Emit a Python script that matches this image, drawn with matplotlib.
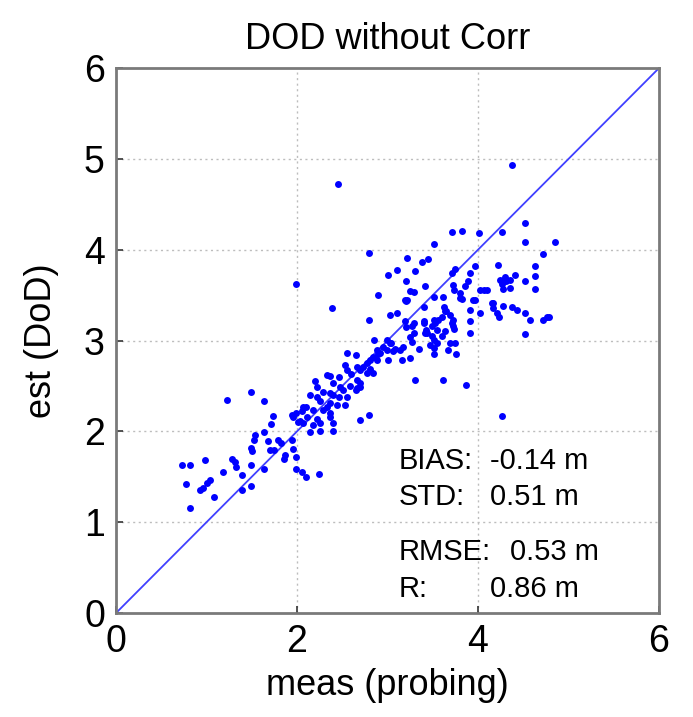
import matplotlib
matplotlib.use("Agg")
import matplotlib.pyplot as plt

plt.rcParams['font.family'] = ['Liberation Sans', 'DejaVu Sans']

title = "DOD without Corr"
xlabel = "meas (probing)"
ylabel = "est (DoD)"
xticks = [0, 2, 4, 6]
yticks = [0, 1, 2, 3, 4, 5, 6]
stat_names = ["BIAS:", "STD:", "RMSE:", "R:"]
stat_values = ["-0.14 m", "0.51 m", "0.53 m", "0.86 m"]

meas = [1.23, 1.49, 1.64, 1.73, 1.71, 1.94, 2.01, 1.54, 1.52, 1.49, 1.50, 1.64, 1.68, 1.70, 1.79,
        1.82, 1.75, 1.87, 1.86, 1.94, 1.96, 1.99, 1.99, 0.73, 0.82, 0.98, 0.77, 0.82, 0.93, 0.96,
        1.00, 1.04, 1.08, 1.18, 1.28, 1.31, 1.33, 1.39, 1.39, 1.49, 1.49, 1.64, 2.05, 2.10, 2.24,
        2.14, 2.25, 2.40, 2.70, 2.80, 2.03, 2.05, 2.10, 2.22, 2.18, 2.53, 2.07, 1.99, 1.96, 2.11,
        2.25, 2.36, 2.40, 2.07, 2.14, 2.22, 2.25, 2.36, 2.40, 2.46, 2.36, 2.33, 2.29, 2.44, 2.36,
        2.18, 2.20, 2.22, 2.40, 2.48, 2.51, 2.55, 2.59, 2.65, 2.70, 2.70, 2.53, 2.55, 2.46, 2.36,
        2.33, 2.66, 2.66, 2.55, 2.65, 2.60, 2.29,
        2.88, 2.92, 2.84, 2.81, 2.77, 2.88, 2.73, 2.70, 2.66, 2.81, 2.84, 2.77, 2.85, 2.99, 3.03,
        3.25, 3.27, 3.41, 3.43, 3.35, 3.14, 3.17, 3.06, 2.99, 3.25, 3.16, 3.04, 3.08, 3.01, 3.30,
        3.61, 3.87, 4.27,
        1.99, 2.39, 2.45, 4.37, 2.80, 2.80, 2.90, 3.01, 3.10, 3.22, 3.30, 3.38, 3.45, 3.20, 3.25,
        3.29, 3.41, 3.20, 3.03, 3.10, 3.19, 3.27, 3.40, 3.51, 3.71, 3.82, 4.01, 4.27, 4.52, 4.85,
        4.52, 4.72, 3.40,
        3.19, 3.51, 3.61, 3.71, 3.75, 3.91, 3.97, 3.89, 3.86, 3.72, 3.73, 3.80, 3.82, 3.97, 4.02,
        4.07, 4.10, 4.22, 4.24, 4.30, 4.31, 4.35, 4.26, 4.35, 4.41, 4.28, 4.52, 4.63, 4.63, 4.63,
        4.15, 4.16, 4.21, 4.28, 4.37, 4.43, 4.52, 4.57, 4.72, 4.76, 4.52, 3.94, 3.91, 4.02, 3.91,
        3.91, 3.62, 3.63, 3.69, 3.72, 3.72, 3.60, 3.51, 3.40, 3.49, 3.55, 3.44, 3.49, 3.29, 3.69,
        3.75, 3.55, 3.76, 3.67, 3.51, 3.51, 3.21, 3.65, 3.71, 3.73, 3.64, 3.60, 3.51, 3.47, 3.80,
        3.20, 3.29, 4.78, 4.17, 4.23, 3.56, 3.52, 2.95, 2.90]

est = [2.34, 2.43, 2.33, 2.17, 2.08, 2.18, 2.10, 1.96, 1.91, 1.82, 1.78, 1.99, 1.89, 1.80, 1.91,
       1.87, 1.79, 1.74, 1.70, 1.91, 1.81, 1.72, 1.59, 1.63, 1.63, 1.68, 1.42, 1.16, 1.35, 1.38,
       1.43, 1.47, 1.28, 1.55, 1.70, 1.66, 1.61, 1.52, 1.35, 1.63, 1.40, 1.59, 1.55, 1.50, 1.53,
       1.99, 2.00, 2.00, 2.12, 2.18, 2.11, 2.22, 2.27, 2.14, 2.07, 2.29, 2.27, 2.20, 2.16, 2.16,
       2.09, 2.16, 2.09, 2.09, 2.40, 2.38, 2.33, 2.42, 2.40, 2.38, 2.31, 2.27, 2.24, 2.29, 2.20,
       2.24, 2.55, 2.49, 2.53, 2.49, 2.46, 2.38, 2.50, 2.46, 2.49, 2.53, 2.73, 2.68, 2.60, 2.61,
       2.62, 2.57, 2.48, 2.86, 2.84, 2.63, 2.43,
       2.90, 2.86, 2.82, 2.79, 2.75, 2.79, 2.71, 2.68, 2.71, 2.69, 2.64, 2.64, 3.01, 3.01, 2.97,
       3.04, 2.98, 3.08, 3.12, 2.91, 2.90, 2.93, 2.88, 2.90, 2.81, 2.79, 2.97, 2.91, 2.79, 2.57,
       2.57, 2.51, 2.17,
       3.62, 3.36, 4.72, 4.93, 3.96, 3.23, 3.50, 3.72, 3.78, 3.91, 3.77, 3.87, 3.90, 3.66, 3.54,
       3.53, 3.60, 3.43, 3.28, 3.30, 3.21, 3.16, 3.21, 4.06, 4.19, 4.21, 4.18, 4.19, 4.29, 4.08,
       4.09, 3.95, 3.37,
       3.45, 3.48, 3.48, 3.74, 3.79, 3.74, 3.82, 3.65, 3.60, 3.61, 3.56, 3.52, 3.46, 3.45, 3.56,
       3.56, 3.56, 3.83, 3.67, 3.70, 3.65, 3.67, 3.62, 3.58, 3.72, 3.57, 3.66, 3.82, 3.71, 3.57,
       3.41, 3.36, 3.30, 3.38, 3.37, 3.34, 3.30, 3.23, 3.23, 3.26, 3.07, 3.45, 3.34, 3.30, 3.22,
       3.08, 3.37, 3.32, 3.28, 3.23, 3.16, 3.26, 3.23, 3.19, 3.16, 3.12, 3.08, 3.05, 3.19, 2.97,
       2.97, 2.97, 2.85, 2.90, 2.85, 2.92, 3.45, 3.33, 3.19, 3.13, 3.11, 3.05, 3.01, 2.95, 3.47,
       3.15, 3.08, 3.26, 3.41, 3.26, 3.23, 3.19, 2.93, 2.85]

fig = plt.figure(figsize=(6.93, 7.17), dpi=100)
ax = fig.add_axes([0.1674, 0.1450, 0.7836, 0.7601])

ax.plot([0, 6], [0, 6], color=(0.25, 0.25, 1.0), lw=1.3, zorder=2)
ax.plot(meas, est, 'o', color='#0000ff', markersize=5.0, markeredgewidth=0, zorder=3)

ax.set_xlim(0, 6)
ax.set_ylim(0, 6)
ax.set_xticks(xticks)
ax.set_yticks(yticks)
ax.tick_params(direction='in', length=5, width=1.2, color='#333333',
               labelsize=27, pad=8)
for sp in ax.spines.values():
    sp.set_color('#7a7a7a')
    sp.set_linewidth(2.0)

for g in [2, 4]:
    ax.axvline(g, color='#bdbdbd', lw=1.0, ls=(0, (1.5, 2.5)), zorder=1)
for g in [1, 2, 3, 4, 5]:
    ax.axhline(g, color='#bdbdbd', lw=1.0, ls=(0, (1.5, 2.5)), zorder=1)

ax.set_title(title, fontsize=26, pad=14)
ax.set_xlabel(xlabel, fontsize=26, labelpad=6)
ax.set_ylabel(ylabel, fontsize=26, labelpad=18)

name_x = 3.12
val_x = [4.13, 4.13, 4.35, 4.13]
stat_y = [1.67, 1.28, 0.67, 0.26]
for n, v, vx, sy in zip(stat_names, stat_values, val_x, stat_y):
    ax.text(name_x, sy, n, fontsize=21, va='center', ha='left', zorder=4)
    ax.text(vx, sy, v, fontsize=21, va='center', ha='left', zorder=4)

fig.savefig("out.png", dpi=100)
